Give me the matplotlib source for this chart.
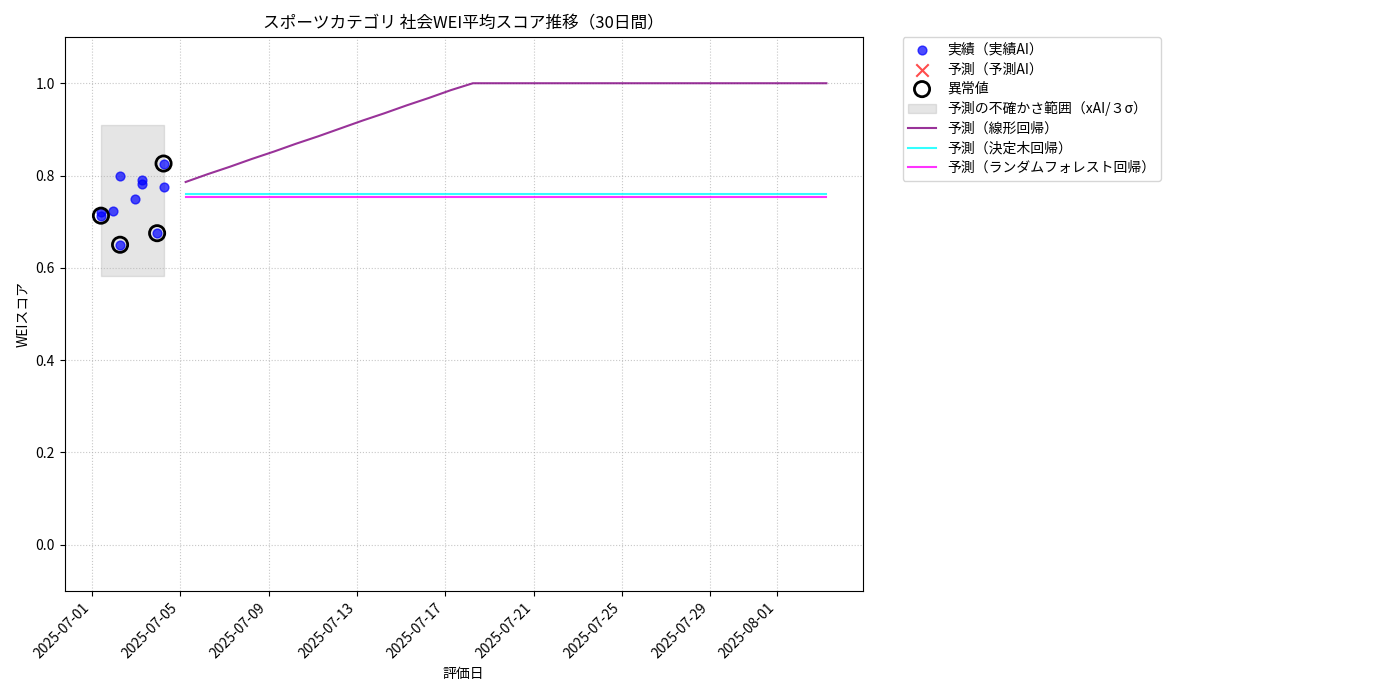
import numpy as np
import pandas as pd
import matplotlib
matplotlib.use("Agg")
import matplotlib.pyplot as plt
import matplotlib.dates as mdates

plt.rcParams['font.family'] = ['Noto Sans CJK JP', 'DejaVu Sans']

# 実績データ
actual_dates = pd.to_datetime([
    '2025-07-01 10:00', '2025-07-01 10:00', '2025-07-01 23:00',
    '2025-07-02 06:45', '2025-07-02 06:45', '2025-07-02 23:00',
    '2025-07-03 06:45', '2025-07-03 06:45', '2025-07-03 23:00',
    '2025-07-04 06:00', '2025-07-04 06:00',
])
actual_scores = [0.722, 0.713, 0.724, 0.800, 0.650, 0.750,
                 0.790, 0.781, 0.675, 0.826, 0.776]

# 異常値
anomaly_dates = pd.to_datetime(['2025-07-01 10:00', '2025-07-02 06:45',
                                '2025-07-03 23:00', '2025-07-04 06:00'])
anomaly_scores = [0.713, 0.650, 0.675, 0.826]

# 不確かさ範囲
band_lower = 0.582
band_upper = 0.909

# 予測（30日間）
pred_dates = pd.date_range('2025-07-05 06:00', periods=30, freq='D')
pred_linear = [0.786, 0.803, 0.819, 0.836, 0.852, 0.869, 0.885, 0.902,
               0.919, 0.935, 0.952, 0.968, 0.985] + [1.0] * 17
pred_tree = [0.759] * 30
pred_rf = [0.753] * 30

fig, ax = plt.subplots(figsize=(14, 7), dpi=100)

ax.scatter(actual_dates, actual_scores, color='blue', alpha=0.7, s=40,
           label='実績（実績AI）', zorder=3)
ax.scatter([], [], color='red', marker='x', alpha=0.7, s=80,
           label='予測（予測AI）')
ax.scatter(anomaly_dates, anomaly_scores, facecolors='none',
           edgecolors='black', s=120, linewidths=2, label='異常値', zorder=4)
ax.fill_between([actual_dates.min(), actual_dates.max()], band_lower, band_upper,
                color='gray', alpha=0.2, label='予測の不確かさ範囲（xAI/３σ）')
ax.plot(pred_dates, pred_linear, color='purple', alpha=0.8, lw=1.5,
        label='予測（線形回帰）')
ax.plot(pred_dates, pred_tree, color='cyan', alpha=0.8, lw=1.5,
        label='予測（決定木回帰）')
ax.plot(pred_dates, pred_rf, color='magenta', alpha=0.8, lw=1.5,
        label='予測（ランダムフォレスト回帰）')

ax.set_ylim(-0.1, 1.1)
ax.set_title('スポーツカテゴリ 社会WEI平均スコア推移（30日間）')
ax.set_xlabel('評価日')
ax.set_ylabel('WEIスコア')
ax.grid(True, linestyle=':', alpha=0.7)
ax.xaxis.set_major_locator(mdates.DayLocator(bymonthday=range(1, 32, 4)))
ax.xaxis.set_major_formatter(mdates.DateFormatter('%Y-%m-%d'))
plt.setp(ax.get_xticklabels(), rotation=45, ha='right')
ax.legend(bbox_to_anchor=(1.05, 1), loc='upper left', borderaxespad=0.,
          labelspacing=0.4)

plt.subplots_adjust(left=0.0462, right=0.6162, top=0.947, bottom=0.156)
plt.savefig('out.png')
